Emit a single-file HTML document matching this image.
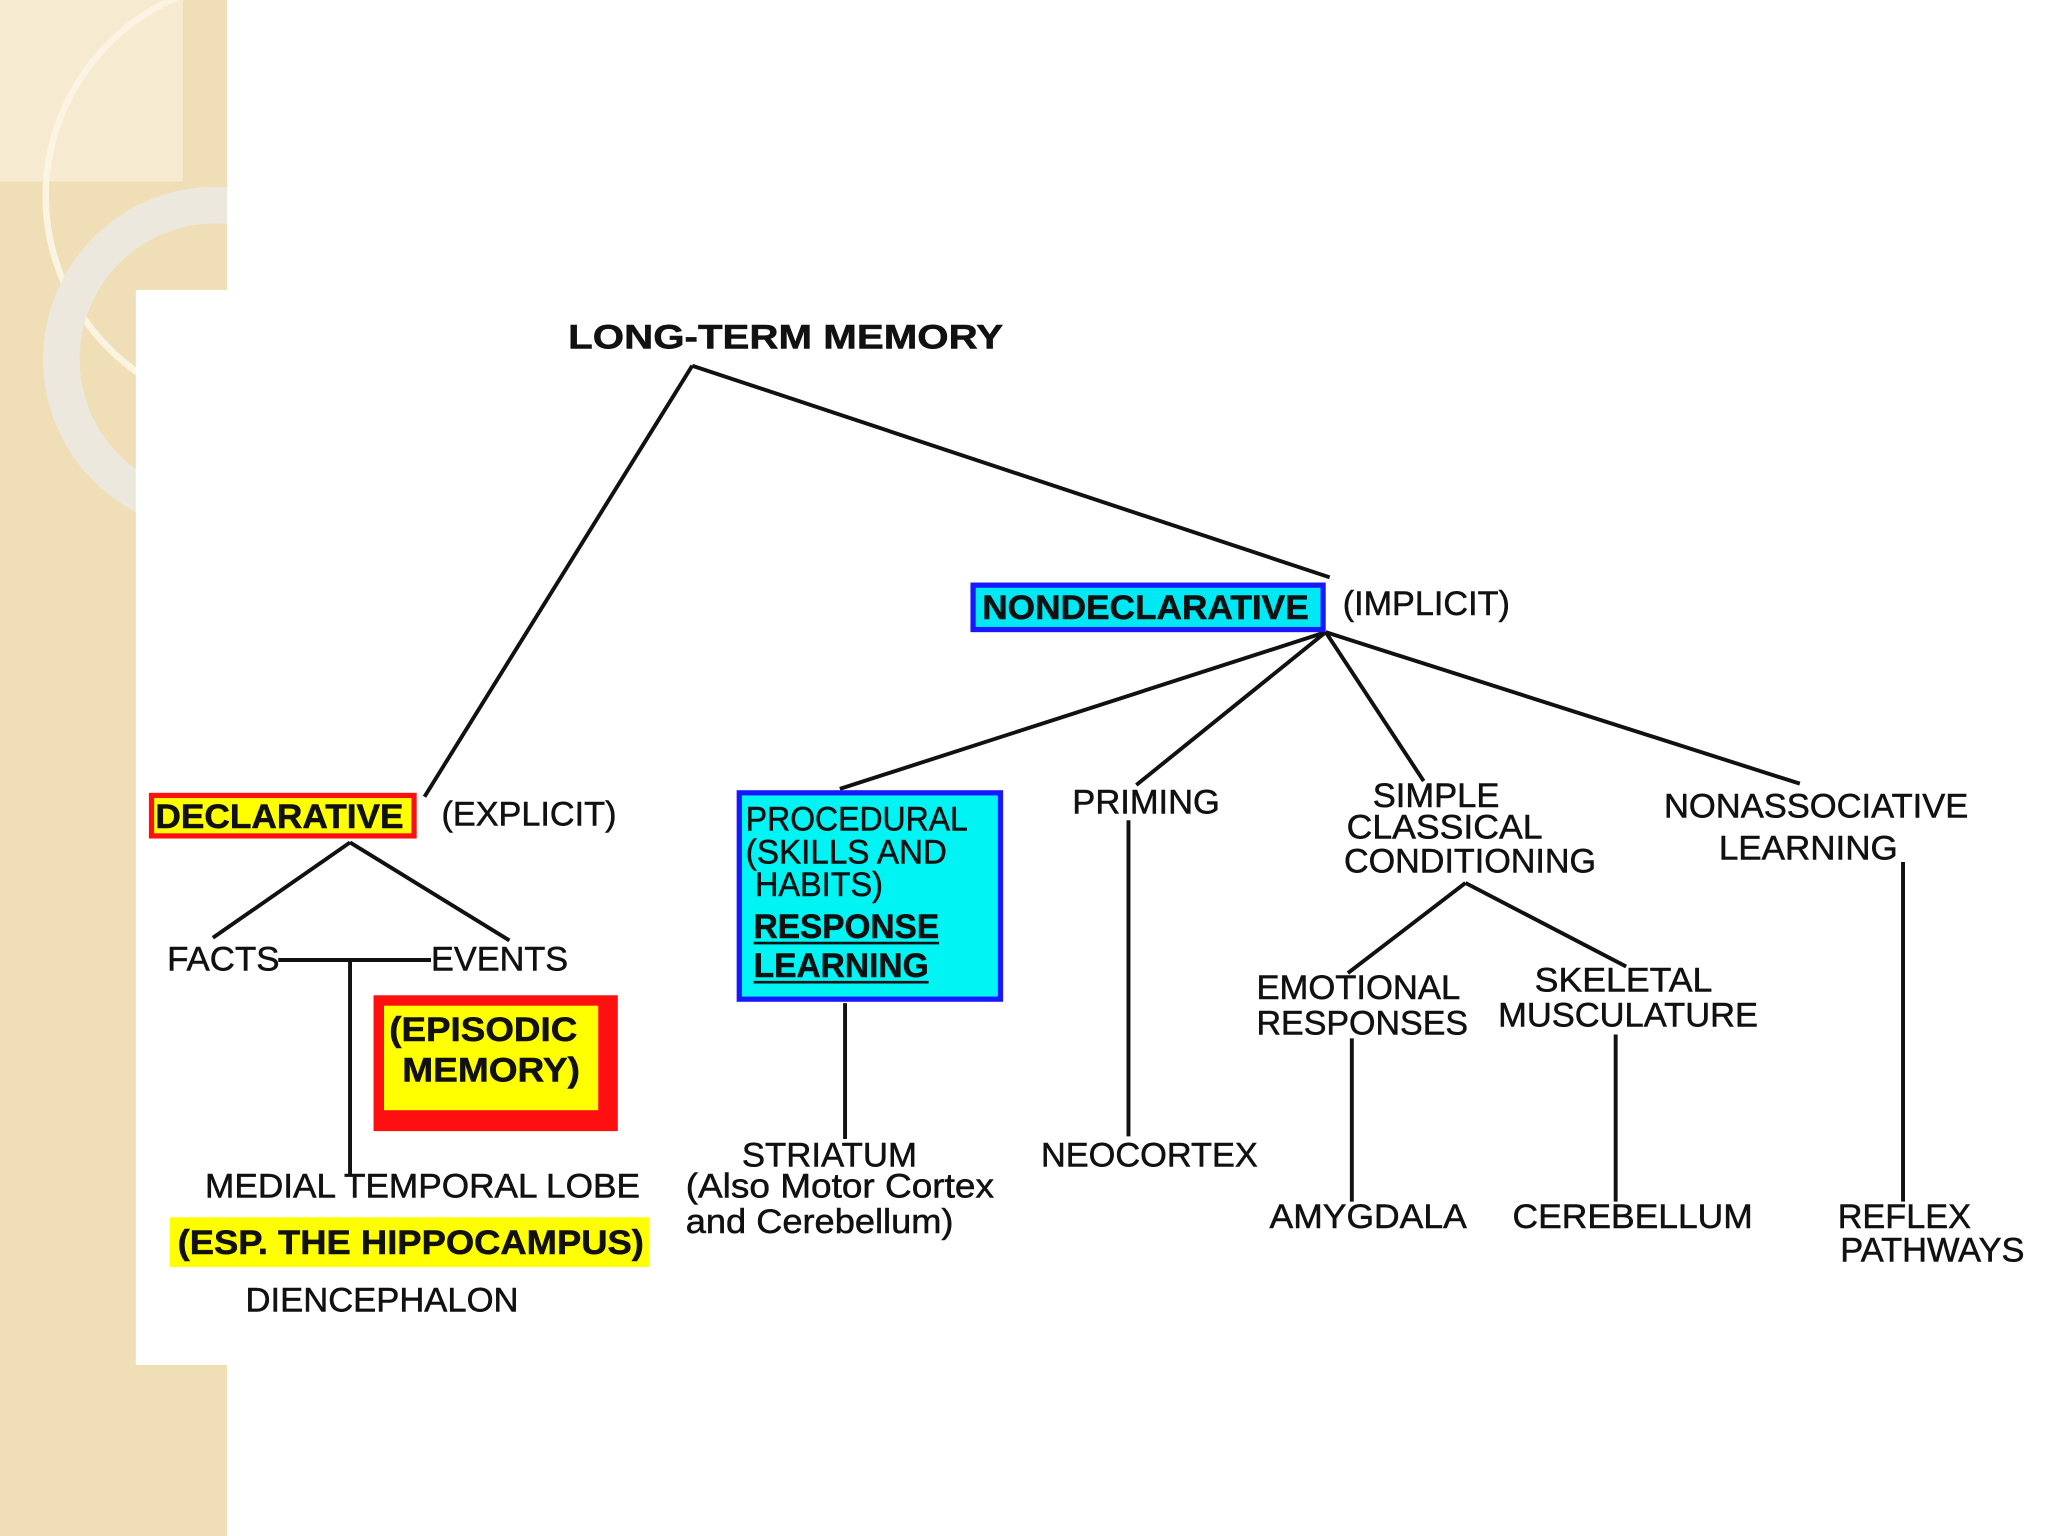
<!DOCTYPE html>
<html><head><meta charset="utf-8"><style>
html,body{margin:0;padding:0;width:2048px;height:1536px;overflow:hidden;background:#fff}
svg{display:block}
text{font-family:"Liberation Sans",Arial,sans-serif;fill:#111;font-size:26px;stroke:#111;stroke-width:0.4}
.b{font-weight:bold}
</style></head><body>
<svg width="2048" height="1536" viewBox="0 0 1568 1176" xmlns="http://www.w3.org/2000/svg">
<rect x="0" y="0" width="1568" height="1176" fill="#fff"/>
<rect x="0" y="0" width="174" height="1176" fill="#f0dfb6"/>
<rect x="0" y="0" width="140" height="139" fill="#f6ead0"/>
<circle cx="200" cy="150" r="165" fill="none" stroke="#fbf4e2" stroke-width="5"/>
<circle cx="165" cy="275" r="118" fill="none" stroke="#ece8de" stroke-width="28"/>
<rect x="104" y="222" width="1464" height="823" fill="#fff"/>
<rect x="174" y="0" width="1394" height="1176" fill="#fff"/>
<g stroke="#111" stroke-width="3" fill="none">
<line x1="530" y1="280" x2="325" y2="610"/>
<line x1="530" y1="280" x2="1018" y2="442"/>
<line x1="1015" y1="484" x2="643" y2="604"/>
<line x1="1015" y1="484" x2="870" y2="601"/>
<line x1="1015" y1="484" x2="1090" y2="598"/>
<line x1="1015" y1="484" x2="1378" y2="600"/>
<line x1="268" y1="645" x2="163" y2="718"/>
<line x1="268" y1="645" x2="390" y2="720"/>
<line x1="213" y1="735" x2="330" y2="735"/>
<line x1="268" y1="735" x2="268" y2="900"/>
<line x1="647" y1="768" x2="647" y2="872"/>
<line x1="864" y1="628" x2="864" y2="870"/>
<line x1="1122" y1="676" x2="1032" y2="745"/>
<line x1="1122" y1="676" x2="1245" y2="740"/>
<line x1="1035" y1="795" x2="1035" y2="920"/>
<line x1="1237" y1="792" x2="1237" y2="920"/>
<line x1="1457" y1="660" x2="1457" y2="920"/>
</g>
<g lengthAdjust="spacingAndGlyphs">
<text x="435" y="267" class="b" font-size="27" textLength="333" lengthAdjust="spacingAndGlyphs">LONG-TERM MEMORY</text>
<rect x="745" y="448" width="268" height="34" fill="#00e8f4" stroke="#1818ff" stroke-width="4"/>
<text x="752" y="474" class="b" font-size="27" textLength="250" lengthAdjust="spacingAndGlyphs">NONDECLARATIVE</text>
<text x="1028" y="471" textLength="128" lengthAdjust="spacingAndGlyphs">(IMPLICIT)</text>
<rect x="116" y="609" width="201" height="31" fill="#ffff00" stroke="#ff1010" stroke-width="4"/>
<text x="119" y="634" class="b" font-size="27" textLength="190" lengthAdjust="spacingAndGlyphs">DECLARATIVE</text>
<text x="338" y="632" textLength="134" lengthAdjust="spacingAndGlyphs">(EXPLICIT)</text>
<text x="128" y="743" textLength="86" lengthAdjust="spacingAndGlyphs">FACTS</text>
<text x="330" y="743" textLength="105" lengthAdjust="spacingAndGlyphs">EVENTS</text>
<rect x="286" y="762" width="187" height="104" fill="#ff1010"/>
<rect x="294" y="770" width="164" height="80" fill="#ffff00"/>
<text x="298" y="797" class="b" font-size="27" textLength="144" lengthAdjust="spacingAndGlyphs">(EPISODIC</text>
<text x="308" y="828" class="b" font-size="27" textLength="136" lengthAdjust="spacingAndGlyphs">MEMORY)</text>
<text x="157" y="917" textLength="333" lengthAdjust="spacingAndGlyphs">MEDIAL TEMPORAL LOBE</text>
<rect x="130" y="932" width="367" height="38" fill="#ffff00"/>
<text x="136" y="960" class="b" font-size="27" textLength="357" lengthAdjust="spacingAndGlyphs">(ESP. THE HIPPOCAMPUS)</text>
<text x="188" y="1004" textLength="209" lengthAdjust="spacingAndGlyphs">DIENCEPHALON</text>
<rect x="566" y="607" width="200" height="158" fill="#00f4f4" stroke="#1818ff" stroke-width="4"/>
<text x="571" y="636" textLength="170" lengthAdjust="spacingAndGlyphs">PROCEDURAL</text>
<text x="571" y="661" textLength="154" lengthAdjust="spacingAndGlyphs">(SKILLS AND</text>
<text x="578" y="686" textLength="98" lengthAdjust="spacingAndGlyphs">HABITS)</text>
<text x="577" y="718" class="b" font-size="27" textLength="142" lengthAdjust="spacingAndGlyphs">RESPONSE</text>
<text x="577" y="748" class="b" font-size="27" textLength="134" lengthAdjust="spacingAndGlyphs">LEARNING</text>
<line x1="577" y1="722" x2="719" y2="722" stroke="#111" stroke-width="2"/>
<line x1="577" y1="752" x2="711" y2="752" stroke="#111" stroke-width="2"/>
<text x="568" y="893" textLength="134" lengthAdjust="spacingAndGlyphs">STRIATUM</text>
<text x="525" y="917" textLength="236" lengthAdjust="spacingAndGlyphs">(Also Motor Cortex</text>
<text x="525" y="944" textLength="205" lengthAdjust="spacingAndGlyphs">and Cerebellum)</text>
<text x="821" y="623" textLength="113" lengthAdjust="spacingAndGlyphs">PRIMING</text>
<text x="797" y="893" textLength="166" lengthAdjust="spacingAndGlyphs">NEOCORTEX</text>
<text x="1051" y="618" textLength="97" lengthAdjust="spacingAndGlyphs">SIMPLE</text>
<text x="1031" y="642" textLength="150" lengthAdjust="spacingAndGlyphs">CLASSICAL</text>
<text x="1029" y="668" textLength="193" lengthAdjust="spacingAndGlyphs">CONDITIONING</text>
<text x="962" y="765" textLength="156" lengthAdjust="spacingAndGlyphs">EMOTIONAL</text>
<text x="962" y="792" textLength="162" lengthAdjust="spacingAndGlyphs">RESPONSES</text>
<text x="1175" y="759" textLength="136" lengthAdjust="spacingAndGlyphs">SKELETAL</text>
<text x="1147" y="786" textLength="199" lengthAdjust="spacingAndGlyphs">MUSCULATURE</text>
<text x="972" y="940" textLength="151" lengthAdjust="spacingAndGlyphs">AMYGDALA</text>
<text x="1158" y="940" textLength="184" lengthAdjust="spacingAndGlyphs">CEREBELLUM</text>
<text x="1274" y="626" textLength="233" lengthAdjust="spacingAndGlyphs">NONASSOCIATIVE</text>
<text x="1316" y="658" textLength="137" lengthAdjust="spacingAndGlyphs">LEARNING</text>
<text x="1407" y="940" textLength="102" lengthAdjust="spacingAndGlyphs">REFLEX</text>
<text x="1409" y="966" textLength="141" lengthAdjust="spacingAndGlyphs">PATHWAYS</text>
</g>
</svg>
</body></html>
